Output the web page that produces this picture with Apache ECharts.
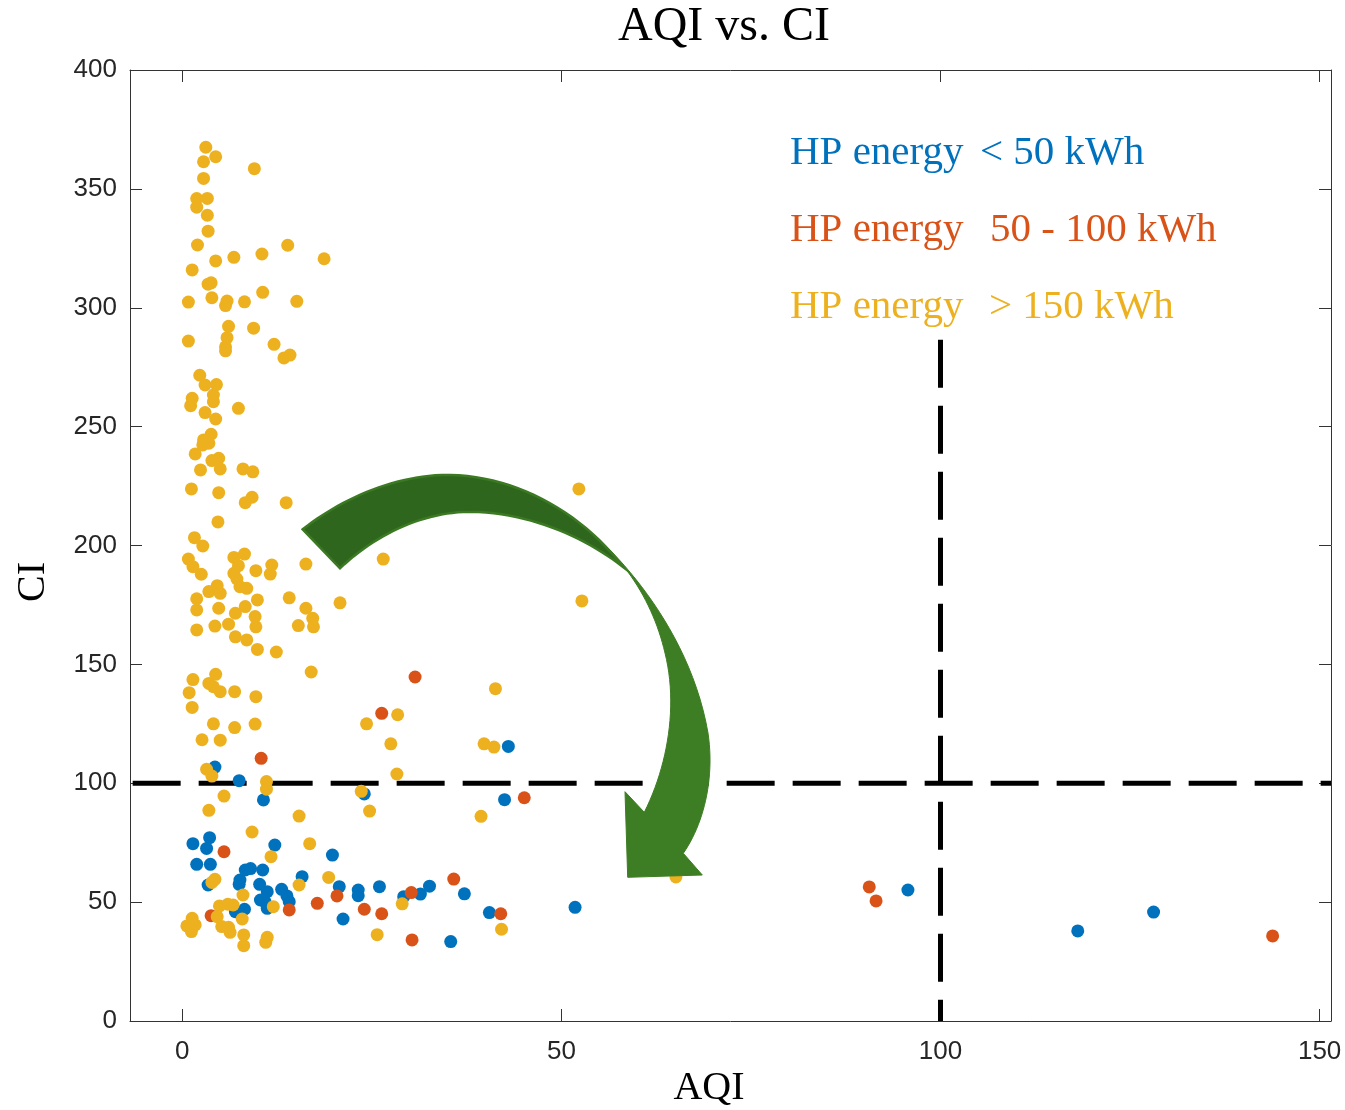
<!DOCTYPE html>
<html>
<head>
<meta charset="utf-8">
<script src="https://cdn.jsdelivr.net/npm/echarts@6/dist/echarts.min.js"></script>
<style>html,body{margin:0;padding:0;background:#fff;}#c{width:1345px;height:1110px;}</style>
</head>
<body>
<div id="c"></div>
<script>
// ---- data ----
const blueLabel = 'HP energy  < 50 kWh';
const orangeLabel = 'HP energy  50 - 100 kWh';
const yellowLabel = 'HP energy  > 150 kWh';
const xTicks = [0, 50, 100, 150];
const yTicks = [0, 50, 100, 150, 200, 250, 300, 350, 400];
const aqiThreshold = 100;
const ciThreshold = 100;
const vLineTopCI = 286.5;

const bluePoints = [[4.3,106.8],[7.5,101.1],[10.7,93.0],[1.4,74.6],[3.6,77.1],[3.2,72.6],[12.2,74.0],[19.8,69.8],[1.9,65.9],[3.7,65.9],[3.4,57.2],[8.3,63.5],[9.0,64.1],[10.6,63.5],[7.6,59.3],[7.5,57.5],[10.2,57.5],[15.8,60.7],[20.7,56.5],[11.2,54.4],[13.1,55.4],[13.8,52.6],[14.1,50.2],[10.3,50.9],[11.2,47.4],[10.9,50.2],[8.2,47.0],[7.0,46.0],[21.2,42.9],[23.2,55.1],[23.2,52.7],[26.0,56.5],[29.2,52.3],[31.4,53.4],[32.6,56.7],[37.2,53.5],[35.4,33.4],[40.5,45.6],[51.8,47.8],[24.0,95.5],[43.0,115.5],[42.5,93.1],[95.7,55.1],[118.1,37.9],[128.1,45.8]];

const orangePoints = [[10.4,110.5],[5.5,71.2],[20.4,52.6],[14.1,46.7],[17.8,49.5],[3.8,44.3],[24.0,47.0],[26.3,45.1],[30.2,54.0],[30.3,34.1],[35.8,59.7],[42.0,45.1],[30.7,144.7],[26.3,129.4],[45.1,93.9],[90.6,56.4],[91.5,50.5],[143.8,35.8]];

const yellowPoints = [[3.1,367.5],[4.4,363.5],[2.8,361.4],[9.5,358.5],[2.8,354.4],[1.9,345.9],[3.3,346.0],[1.9,342.3],[3.3,338.9],[3.4,332.2],[2.0,326.4],[13.9,326.3],[6.8,321.2],[10.5,322.6],[18.7,320.6],[4.4,319.7],[1.3,315.9],[3.8,310.5],[3.4,309.9],[10.6,306.5],[0.8,302.4],[3.9,304.2],[5.9,302.8],[5.7,300.9],[8.2,302.5],[15.1,302.7],[6.1,292.2],[9.4,291.4],[0.8,286.0],[5.9,287.4],[5.7,283.6],[5.7,281.9],[12.1,284.6],[14.2,280.1],[13.4,278.9],[2.3,271.6],[3.0,267.5],[4.5,267.7],[1.3,261.9],[1.1,258.8],[4.1,263.3],[4.1,260.5],[7.4,257.7],[3.0,255.9],[4.4,253.2],[3.8,246.8],[2.8,244.4],[3.5,243.0],[2.7,242.3],[1.7,238.5],[3.9,235.7],[4.8,236.7],[5.0,232.2],[2.4,231.8],[8.0,232.2],[9.3,231.0],[1.2,223.8],[4.8,222.2],[9.2,220.3],[8.3,218.0],[13.7,218.0],[4.7,209.9],[1.6,203.3],[2.7,199.8],[0.8,194.3],[1.4,191.1],[2.5,187.9],[6.8,195.0],[8.2,196.4],[7.4,191.5],[9.7,189.4],[11.8,191.8],[11.6,188.0],[16.3,192.2],[6.8,188.3],[7.2,185.9],[8.5,182.0],[7.6,182.7],[4.6,183.1],[3.5,180.6],[5.0,179.9],[4.8,173.6],[1.9,177.6],[1.9,172.9],[9.9,177.1],[14.1,178.0],[16.3,173.6],[17.2,169.4],[17.3,165.8],[8.3,174.3],[7.0,171.5],[9.6,170.1],[9.7,165.8],[1.9,164.5],[4.3,166.1],[6.1,166.9],[15.3,166.3],[7.0,161.6],[8.5,160.3],[20.8,175.9],[9.9,156.3],[12.4,155.2],[17.0,146.8],[1.4,143.6],[4.4,145.8],[3.5,142.0],[4.1,140.6],[5.0,138.5],[0.9,138.1],[6.9,138.5],[9.7,136.4],[1.3,131.9],[4.1,125.0],[6.9,123.4],[9.6,124.9],[2.6,118.3],[5.0,118.1],[3.2,105.9],[3.9,103.0],[11.1,100.7],[11.1,97.5],[5.5,94.6],[3.5,88.6],[15.4,86.2],[9.2,79.5],[16.8,74.6],[11.7,69.1],[4.3,59.6],[3.9,58.3],[15.4,57.2],[19.3,60.4],[8.0,53.0],[12.0,48.1],[4.9,48.4],[6.0,49.1],[6.7,48.8],[4.6,43.9],[5.2,39.7],[6.3,37.3],[6.1,39.4],[7.9,42.9],[1.3,43.2],[0.6,40.0],[1.7,40.4],[1.2,37.6],[8.1,36.2],[8.1,31.7],[11.2,35.2],[11.0,33.1],[23.6,96.6],[24.3,125.0],[28.4,128.8],[27.5,116.6],[28.3,103.9],[24.7,88.3],[25.7,36.3],[29.0,49.3],[42.1,38.6],[41.3,139.8],[39.8,116.6],[41.1,115.2],[39.4,86.1],[52.3,223.8],[52.7,176.7],[65.1,60.6],[26.5,194.3]];

// ---- chart ----
const X_MIN = -6.9, X_MAX = 151.5;
const BLUE = '#0072BD', ORANGE = '#D95319', YELLOW = '#EDB120';
const chart = echarts.init(document.getElementById('c'));

const axisLineStyle = { color: '#333333', width: 1 };
const tickFont = { fontFamily: 'Liberation Sans, Arial, sans-serif', fontSize: 26, color: '#262626' };
const serif = 'Liberation Serif, Times New Roman, serif';

// curved arrow annotation (pixel space): sampled cubic bezier outlines
function bez(p0, p1, p2, p3, n) {
  const out = [];
  for (let i = 1; i <= n; i++) {
    const t = i / n, u = 1 - t;
    out.push([
      u*u*u*p0[0] + 3*u*u*t*p1[0] + 3*u*t*t*p2[0] + t*t*t*p3[0],
      u*u*u*p0[1] + 3*u*u*t*p1[1] + 3*u*t*t*p2[1] + t*t*t*p3[1]
    ]);
  }
  return out;
}
function outline(start, segs) {
  let pts = [start], cur = start;
  segs.forEach(s => {
    if (s[0] === 'C') { pts = pts.concat(bez(cur, s[1], s[2], s[3], 24)); cur = s[3]; }
    else { pts.push(s[1]); cur = s[1]; }
  });
  return pts;
}
const darkArrow = outline([302.7,529.3], [
  ['C',[340,500],[390,477],[441.7,475]],
  ['C',[510,473],[580,510],[623,567]],
  ['C',[585,537],[525,510],[463,512]],
  ['C',[420,514],[375,535],[340,568.3]]
]);
const lightArrow = outline([592,533], [
  ['C',[631,567],[692,640],[708,733]],
  ['C',[715,780],[703,825],[683.3,853.3]],
  ['L',[702.3,875]],
  ['L',[627.7,877.3]],
  ['L',[625,791.7]],
  ['L',[644.3,812.3]],
  ['C',[668,765],[678,705],[665,653]],
  ['C',[655,610],[632,568],[596,538]]
]);

chart.setOption({
  animation: false,
  grid: { left: 130, right: 14, top: 70, bottom: 89, containLabel: false },
  xAxis: [
    { type: 'value', position: 'bottom', min: X_MIN, max: X_MAX,
      axisLine: { show: true, onZero: false, lineStyle: axisLineStyle },
      axisTick: { show: true, inside: true, length: 12, customValues: xTicks, lineStyle: axisLineStyle },
      axisLabel: Object.assign({ customValues: xTicks, margin: 18 }, tickFont),
      splitLine: { show: false } },
    { type: 'value', position: 'top', min: X_MIN, max: X_MAX,
      axisLine: { show: true, onZero: false, lineStyle: axisLineStyle },
      axisTick: { show: true, inside: true, length: 12, customValues: xTicks, lineStyle: axisLineStyle },
      axisLabel: { show: false }, splitLine: { show: false } }
  ],
  yAxis: [
    { type: 'value', position: 'left', min: 0, max: 400, interval: 50,
      axisLine: { show: true, onZero: false, lineStyle: axisLineStyle },
      axisTick: { show: true, inside: true, length: 12, lineStyle: axisLineStyle },
      axisLabel: Object.assign({ margin: 13 }, tickFont),
      splitLine: { show: false } },
    { type: 'value', position: 'right', min: 0, max: 400, interval: 50,
      axisLine: { show: true, onZero: false, lineStyle: axisLineStyle },
      axisTick: { show: true, inside: true, length: 12, lineStyle: axisLineStyle },
      axisLabel: { show: false }, splitLine: { show: false } }
  ],
  series: [
    { type: 'line', name: 'ciThreshold', data: [[-6.55, ciThreshold], [X_MAX, ciThreshold]],
      symbol: 'none', silent: true, z: 1,
      lineStyle: { color: '#000', width: 5, type: [48, 18] } },
    { type: 'line', name: 'aqiThreshold', data: [[aqiThreshold, vLineTopCI], [aqiThreshold, 0]],
      symbol: 'none', silent: true, z: 1,
      lineStyle: { color: '#000', width: 5, type: [48, 18] } },
    { type: 'scatter', name: blueLabel, data: bluePoints, symbolSize: 13, z: 2,
      itemStyle: { color: BLUE, opacity: 1 } },
    { type: 'scatter', name: orangeLabel, data: orangePoints, symbolSize: 13, z: 3,
      itemStyle: { color: ORANGE, opacity: 1 } },
    { type: 'scatter', name: yellowLabel, data: yellowPoints, symbolSize: 13, z: 4,
      itemStyle: { color: YELLOW, opacity: 1 } }
  ],
  graphic: [
    { type: 'text', style: { text: 'AQI vs. CI', x: 724, y: 27, fontFamily: serif, fontSize: 48, fill: '#000', align: 'center', verticalAlign: 'middle' } },
    { type: 'text', style: { text: 'AQI', x: 709, y: 1088, fontFamily: serif, fontSize: 40, fill: '#000', align: 'center', verticalAlign: 'middle' } },
    { type: 'text', x: 33, y: 582, rotation: Math.PI / 2, style: { text: 'CI', x: 0, y: 0, fontFamily: serif, fontSize: 40, fill: '#000', align: 'center', verticalAlign: 'middle' } },
    { type: 'text', style: { text: 'HP energy', x: 790, y: 153, fontFamily: serif, fontSize: 41, fill: BLUE, align: 'left', verticalAlign: 'middle' } },
    { type: 'text', style: { text: '< 50 kWh', x: 980, y: 153, fontFamily: serif, fontSize: 41, fill: BLUE, align: 'left', verticalAlign: 'middle' } },
    { type: 'text', style: { text: 'HP energy', x: 790, y: 230, fontFamily: serif, fontSize: 41, fill: ORANGE, align: 'left', verticalAlign: 'middle' } },
    { type: 'text', style: { text: '50 - 100 kWh', x: 990, y: 230, fontFamily: serif, fontSize: 41, fill: ORANGE, align: 'left', verticalAlign: 'middle' } },
    { type: 'text', style: { text: 'HP energy', x: 790, y: 307, fontFamily: serif, fontSize: 41, fill: YELLOW, align: 'left', verticalAlign: 'middle' } },
    { type: 'text', style: { text: '> 150 kWh', x: 989, y: 307, fontFamily: serif, fontSize: 41, fill: YELLOW, align: 'left', verticalAlign: 'middle' } },
    { type: 'polygon', z: 100, shape: { points: lightArrow }, style: { fill: '#3d7d23', stroke: '#3d7d23', lineWidth: 1 } },
    { type: 'polygon', z: 101, shape: { points: darkArrow }, style: { fill: '#2f661d', stroke: '#3b7a22', lineWidth: 2.5 } }
  ]
});
</script>
</body>
</html>
